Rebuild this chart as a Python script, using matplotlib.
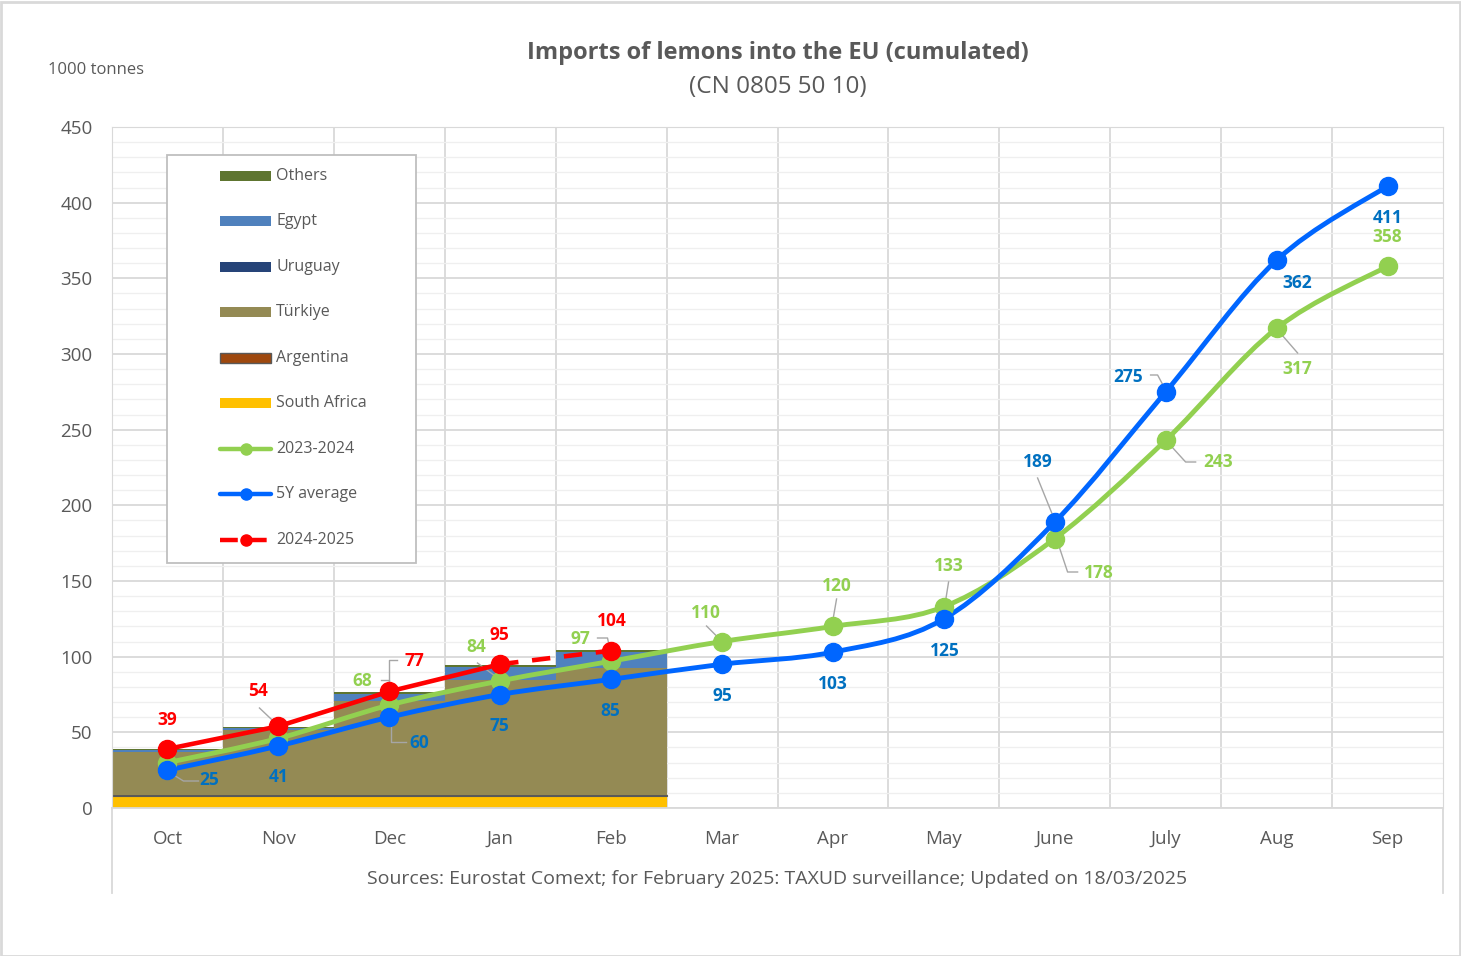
import matplotlib
matplotlib.use('Agg')
import matplotlib.pyplot as plt
from matplotlib.path import Path
from matplotlib.patches import PathPatch, Rectangle
from matplotlib.lines import Line2D
import numpy as np

plt.rcParams['font.family'] = ['Open Sans', 'DejaVu Sans']

# ---- data ----
months = ['Oct', 'Nov', 'Dec', 'Jan', 'Feb', 'Mar', 'Apr', 'May', 'June', 'July', 'Aug', 'Sep']

# 2024-2025 stacked by origin (cumulated, 1000 t)
south_africa = [8.0, 8.0, 8.0, 8.0, 8.0]
argentina = [0.8, 0.8, 0.8, 0.8, 0.8]
turkiye = [28.2, 42.7, 62.0, 75.8, 83.7]
uruguay = [0.1, 0.1, 0.1, 0.1, 0.1]
egypt = [1.3, 1.5, 4.6, 8.6, 10.5]
others = [0.4, 0.6, 1.0, 1.2, 1.0]

y2324 = [30, 46, 68, 84, 97, 110, 120, 133, 178, 243, 317, 358]
avg5y = [25, 41, 60, 75, 85, 95, 103, 125, 189, 275, 362, 411]
y2425 = [39, 54, 77, 95, 104]

GREY = '#595959'
BLUE = '#0066FF'
BLUE_TXT = '#0070C0'
GREEN = '#92D050'
RED = '#FF0000'

fig = plt.figure(figsize=(14.61, 9.56), dpi=100)
ax = fig.add_axes([112/1461, 1 - 808/956, 1331/1461, 681/956])

# px -> data helpers (reference pixel coords)
def dx(px):
    return (px - 167) / 110.9

def dy(py):
    return (808 - py) / (681 / 450)

# ---- stacked columns ----
xs = np.arange(len(south_africa))
layers = [
    ('South Africa', south_africa, '#FFC000', 'none'),
    ('Argentina', argentina, '#9E480E', '#595959'),
    ('Türkiye', turkiye, '#948A54', 'none'),
    ('Uruguay', uruguay, '#264478', 'none'),
    ('Egypt', egypt, '#4F81BD', 'none'),
    ('Others', others, '#5E7530', 'none'),
]
bottom = np.zeros(len(xs))
for name, vals, col, ec in layers:
    ax.bar(xs, vals, width=1.0, bottom=bottom, color=col, edgecolor=ec,
           linewidth=0.8 if ec != 'none' else 0, zorder=2)
    bottom += np.array(vals)


# ---- smoothed lines (Excel-like) ----
def smooth_path(yv):
    pts = np.column_stack([np.arange(len(yv)), yv]).astype(float)
    n = len(pts)
    verts = [pts[0]]
    codes = [Path.MOVETO]
    for i in range(n - 1):
        p0 = pts[max(i - 1, 0)]
        p1 = pts[i]
        p2 = pts[i + 1]
        p3 = pts[min(i + 2, n - 1)]
        c1 = p1 + (p2 - p0) / 6
        c2 = p2 - (p3 - p1) / 6
        verts += [c1, c2, p2]
        codes += [Path.CURVE4] * 3
    return Path(verts, codes)


for yv, col in [(y2324, GREEN), (avg5y, BLUE)]:
    ax.add_patch(PathPatch(smooth_path(yv), facecolor='none', edgecolor=col,
                           lw=3.5, zorder=4, capstyle='round'))

ax.plot(range(len(y2324)), y2324, 'o', color=GREEN, ms=13, zorder=5)
ax.plot(range(len(avg5y)), avg5y, 'o', color=BLUE, ms=13, zorder=6)

# 2024-2025: solid up to Jan, dashed Jan-Feb
ax.plot(range(4), y2425[:4], '-', color=RED, lw=3.3, zorder=7)
ax.plot([3, 4], y2425[3:5], '--', color=RED, lw=3.3, dashes=(4, 3), zorder=7)
ax.plot(range(len(y2425)), y2425, 'o', color=RED, ms=13, zorder=8)

# ---- data labels ----
labels = [
    # (value, color, label px, label py, leader points in px)
    (avg5y[0], BLUE_TXT, 209, 780, [(198, 781), (183, 781), (170, 773)]),
    (avg5y[1], BLUE_TXT, 278, 777, None),
    (avg5y[2], BLUE_TXT, 419, 743, [(391, 720), (391, 742), (406, 742)]),
    (avg5y[3], BLUE_TXT, 499, 726, None),
    (avg5y[4], BLUE_TXT, 610, 711, None),
    (avg5y[5], BLUE_TXT, 722, 696, None),
    (avg5y[6], BLUE_TXT, 832, 684, None),
    (avg5y[7], BLUE_TXT, 944, 651, None),
    (avg5y[8], BLUE_TXT, 1037, 462, [(1037, 478), (1052, 515)]),
    (avg5y[9], BLUE_TXT, 1127, 377, [(1150, 375), (1157, 375), (1165, 390)]),
    (avg5y[10], BLUE_TXT, 1297, 283, None),
    (avg5y[11], BLUE_TXT, 1387, 218, None),
    (y2324[2], GREEN, 362, 681, [(381, 680), (389, 680), (389, 692)]),
    (y2324[3], GREEN, 476, 647, [(477, 663), (500, 680)]),
    (y2324[4], GREEN, 580, 639, [(597, 638), (607, 638), (611, 657)]),
    (y2324[5], GREEN, 705, 613, [(706, 626), (721, 641)]),
    (y2324[6], GREEN, 836, 586, [(836, 599), (832, 622)]),
    (y2324[7], GREEN, 948, 566, [(948, 582), (944, 607)]),
    (y2324[8], GREEN, 1098, 573, [(1057, 542), (1067, 572), (1077, 572)]),
    (y2324[9], GREEN, 1217, 462, [(1165, 440), (1185, 462), (1195, 462)]),
    (y2324[10], GREEN, 1297, 369, [(1277, 330), (1297, 353)]),
    (y2324[11], GREEN, 1387, 237, None),
    (y2425[0], RED, 167, 720, None),
    (y2425[1], RED, 258, 691, [(259, 708), (278, 726)]),
    (y2425[2], RED, 414, 661, [(397, 660), (389, 660), (389, 690)]),
    (y2425[3], RED, 499, 635, None),
    (y2425[4], RED, 611, 621, None),
]
for val, col, lx, ly, leader in labels:
    if leader:
        ax.plot([dx(p[0]) for p in leader], [dy(p[1]) for p in leader],
                color='#A6A6A6', lw=1.0, zorder=3)
    ax.text(dx(lx), dy(ly), str(val), color=col, fontsize=12.5, fontweight='bold',
            ha='center', va='center', zorder=9)

# ---- axes styling ----
ax.set_xlim(-0.5, 11.5)
ax.set_ylim(0, 450)
ax.set_yticks(range(0, 451, 50))
ax.set_yticks(range(0, 451, 10), minor=True)
ax.set_xticks(range(12))
ax.set_xticklabels(months)
ax.tick_params(axis='both', length=0, labelsize=13.5, labelcolor=GREY)
ax.tick_params(axis='y', pad=14)
ax.tick_params(axis='x', pad=16)
ax.tick_params(which='minor', length=0)
ax.grid(axis='y', which='major', color='#D9D9D9', lw=1.3, zorder=0)
ax.grid(axis='y', which='minor', color='#EFEFEF', lw=0.9, zorder=0)
for k in range(1, 12):
    ax.axvline(k - 0.5, color='#D9D9D9', lw=1.3, zorder=0.5)
ax.set_axisbelow(True)
for s in ['top', 'right']:
    ax.spines[s].set_color('#D9D9D9')
    ax.spines[s].set_linestyle((0, (3, 1)))
ax.spines['left'].set_color('#D9D9D9')
ax.spines['bottom'].set_color('#D9D9D9')
ax.spines['bottom'].set_linewidth(1.3)

# frame lines extending below the plot
for xx in [-0.5, 11.5]:
    ax.plot([xx, xx], [0, dy(893)], color='#D9D9D9', lw=1.3, clip_on=False, zorder=1)

# ---- legend (manual, Excel-like) ----
def ax_frac(px, py):
    return (px - 112) / 1331, (808 - py) / 681

lx0, ly0 = ax_frac(167, 563)
lx1, ly1 = ax_frac(416, 155)
ax.add_patch(Rectangle((lx0, ly0), lx1 - lx0, ly1 - ly0, transform=ax.transAxes,
                       facecolor='white', edgecolor='#BFBFBF', lw=1.3, zorder=10))
legend_rows = [('Others', '#5E7530'), ('Egypt', '#4F81BD'), ('Uruguay', '#264478'),
               ('Türkiye', '#948A54'), ('Argentina', '#9E480E'), ('South Africa', '#FFC000')]
row_y = [176, 221, 267, 312, 358, 403, 449, 494, 540]
for (name, col), ry in zip(legend_rows, row_y):
    hx, hy = ax_frac(220, ry + 5)
    hx2, hy2 = ax_frac(271, ry - 5)
    ax.add_patch(Rectangle((hx, hy), hx2 - hx, hy2 - hy, transform=ax.transAxes,
                           facecolor=col, edgecolor='#595959' if name == 'Argentina' else 'none',
                           lw=1.0, zorder=11))
    tx, ty = ax_frac(276, ry)
    ax.text(tx, ty, name, transform=ax.transAxes, fontsize=11.5, color=GREY,
            va='center', ha='left', zorder=11)
for (name, col, ls), ry in zip([('2023-2024', GREEN, '-'), ('5Y average', BLUE, '-'),
                                ('2024-2025', RED, '--')], row_y[6:]):
    a, b = ax_frac(220, ry)
    c, _ = ax_frac(271, ry)
    ln = Line2D([a, c], [b, b], transform=ax.transAxes, color=col, lw=3.2,
                linestyle=ls, zorder=11, solid_capstyle='round')
    if ls == '--':
        ln.set_dashes((4, 2.5))
    ax.add_line(ln)
    ax.add_line(Line2D([(a + c) / 2], [b], transform=ax.transAxes, marker='o',
                       color=col, ms=8, zorder=12))
    tx, ty = ax_frac(276, ry)
    ax.text(tx, ty, name, transform=ax.transAxes, fontsize=11.5, color=GREY,
            va='center', ha='left', zorder=11)

# ---- titles / notes ----
fig.text(778/1461, 1 - 53/956, 'Imports of lemons into the EU (cumulated)', fontsize=17,
         fontweight='bold', color=GREY, ha='center', va='center')
fig.text(778/1461, 1 - 87/956, '(CN 0805 50 10)', fontsize=17.5, color=GREY,
         ha='center', va='center')
fig.text(48/1461, 1 - 70/956, '1000 tonnes', fontsize=12, color=GREY, ha='left', va='center')
fig.text(777/1461, 1 - 879/956,
         'Sources: Eurostat Comext; for February 2025: TAXUD surveillance; Updated on 18/03/2025',
         fontsize=14, color=GREY, ha='center', va='center')

# outer border
fig.patches.append(Rectangle((0.001, 0.0), 0.998, 0.998, transform=fig.transFigure,
                             facecolor='none', edgecolor='#D9D9D9', lw=2))

fig.savefig('out.png', dpi=100, facecolor='white')
